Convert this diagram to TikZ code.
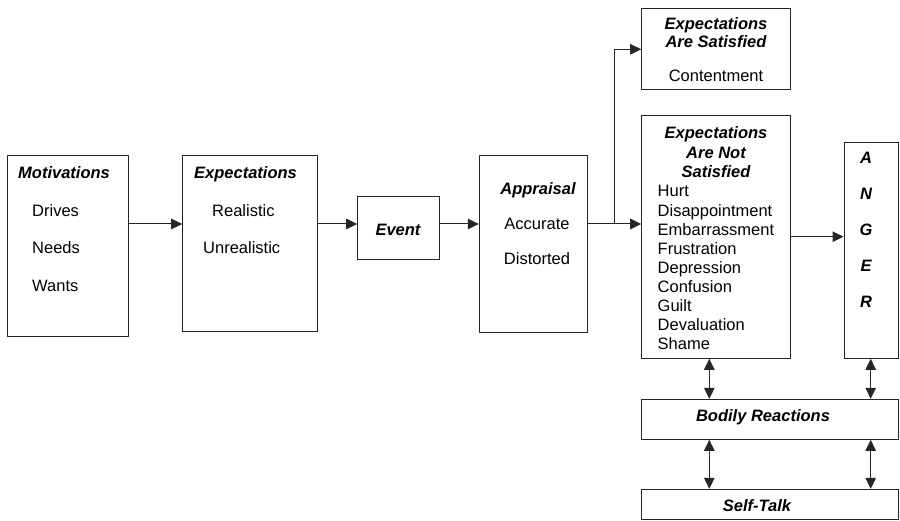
\documentclass[tikz,border=0pt]{standalone}
\usepackage{fontspec}
\setmainfont{Liberation Sans}
\usetikzlibrary{arrows.meta}

\begin{document}
\begin{tikzpicture}[
  x=1pt, y=-1pt,
  font=\fontsize{16.5}{19}\selectfont,
  box/.style={draw=black!85, line width=1pt, inner sep=0pt},
  head/.style={inner sep=0pt, anchor=base, font=\fontsize{16.5}{19}\selectfont\bfseries\itshape},
  headw/.style={head, anchor=base west},
  item/.style={inner sep=0pt, anchor=base west},
  itemc/.style={inner sep=0pt, anchor=base},
  tip/.tip={Triangle[length=11pt,width=10.5pt]},
  arr/.style={draw=black!85, line width=1pt, -tip},
  darr/.style={draw=black!85, line width=1pt, tip-tip}
]
\useasboundingbox (0,0) rectangle (900,521);

% boxes
\node[box, minimum width=121.3pt, minimum height=180.7pt] (mot)    at (67.65,246.35) {};
\node[box, minimum width=134.3pt, minimum height=176pt]   (expc)   at (249.85,244)   {};
\node[box, minimum width=81.3pt,  minimum height=63.3pt]  (event)  at (398.35,228.35) {};
\node[box, minimum width=108.4pt, minimum height=176.3pt] (app)    at (533.5,244.15) {};
\node[box, minimum width=149pt,   minimum height=81pt]    (sat)    at (716.2,48.8)   {};
\node[box, minimum width=149pt,   minimum height=242.8pt] (notsat) at (716.2,236.9)  {};
\node[box, minimum width=54.3pt,  minimum height=215.6pt] (anger)  at (871.15,250.5) {};
\node[box, minimum width=256.6pt, minimum height=40pt]    (body)   at (770,419.3)    {};
\node[box, minimum width=256.6pt, minimum height=30.2pt]  (talk)   at (770,504.4)    {};

% Motivations
\node[headw] (motT) at (18,178.7) {Motivations};
\node[item] (motA) at (32,216.7) {Drives};
\node[item] (motB) at (32,254) {Needs};
\node[item] (motC) at (32,292) {Wants};

% Expectations
\node[headw] (expT) at (194,178.7) {Expectations};
\node[item] (expA) at (212,216.7) {Realistic};
\node[item] (expB) at (203,254) {Unrealistic};

% Event
\node[head] (eventT) at (398,236) {Event};

% Appraisal
\node[head] (appT) at (538,195) {Appraisal};
\node[itemc] (appA) at (537,230) {Accurate};
\node[itemc] (appB) at (537,265) {Distorted};

% Expectations are satisfied
\node[head] (satT1) at (716,30) {Expectations};
\node[head] (satT2) at (716,48) {Are Satisfied};
\node[itemc] (satA) at (716,82) {Contentment};

% Expectations are not satisfied
\node[head] (nsT1) at (716,139) {Expectations};
\node[head] (nsT2) at (716,158.5) {Are Not};
\node[head] (nsT3) at (716,178) {Satisfied};
\foreach \w [count=\i from 0] in {Hurt,Disappointment,Embarrassment,Frustration,Depression,Confusion,Guilt,Devaluation,Shame}
  \node[item] (ns\i) at (657.5,197+19.1*\i) {\w};

% ANGER
\foreach \l [count=\i from 0] in {A,N,G,E,R}
  \node[head] (ang\i) at (866,164+35.9*\i) {\l};

% bottom boxes
\node[head] (bodyT) at (763,421) {Bodily Reactions};
\node[head] (talkT) at (757,511) {Self-Talk};

% connectors
\coordinate (row) at (0,224);
\coordinate (split) at (614.3,224);
\coordinate (up) at (614.3,49.3);
\coordinate (angrow) at (0,236.7);
\coordinate (colL) at (709.3,0);
\coordinate (colR) at (870.7,0);

\draw[arr] (mot.east |- row) -- (expc.west |- row);
\draw[arr] (expc.east |- row) -- (event.west |- row);
\draw[arr] (event.east |- row) -- (app.west |- row);
\draw[arr] (app.east |- row) -- (notsat.west |- row);
\draw[arr] (split) -- (up) -- (sat.west |- up);
\draw[arr] (notsat.east |- angrow) -- (anger.west |- angrow);

\draw[darr] (notsat.south -| colL) -- (body.north -| colL);
\draw[darr] (anger.south -| colR) -- (body.north -| colR);
\draw[darr] (body.south -| colL) -- (talk.north -| colL);
\draw[darr] (body.south -| colR) -- (talk.north -| colR);
\end{tikzpicture}
\end{document}
